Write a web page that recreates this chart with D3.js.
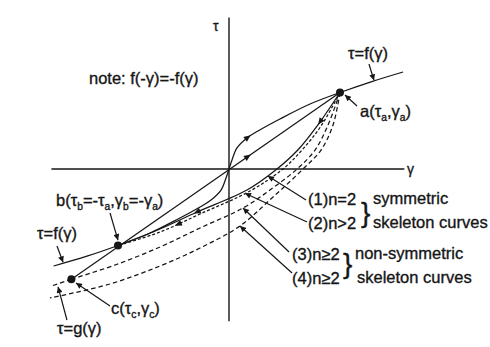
<!DOCTYPE html>
<html>
<head>
<meta charset="utf-8">
<script src="https://cdn.jsdelivr.net/npm/d3@7"></script>
<style>
  html, body { margin: 0; padding: 0; background: #fff; }
  svg { display: block; font-family: "Liberation Sans", Arial, Helvetica, sans-serif; }
</style>
</head>
<body>
<svg id="chart" width="490" height="347"></svg>
<script>
// Skeleton curve tau = f(gamma), odd-symmetric about the origin
const skeletonGamma = [-1.58, -1.28, -1.0, -0.73, -0.459, -0.261, -0.162, -0.072, -0.027, 0,
                        0.027, 0.072, 0.162, 0.261, 0.459, 0.73, 1.0, 1.28, 1.568];
const skeletonTau   = [-1.268, -1.14, -1.0, -0.85, -0.654, -0.497, -0.405, -0.275, -0.118, 0,
                        0.118, 0.275, 0.405, 0.497, 0.654, 0.85, 1.0, 1.14, 1.268];

// (1) n = 2, symmetric: unloading branch from a to b
const branch1Gamma = [1, 0.80, 0.62, 0.432, 0.162, -0.288, -0.622, -1];
const branch1Tau   = [1, 0.575, 0.248, 0, -0.275, -0.562, -0.784, -1];

// (2) n > 2, symmetric: unloading branch from a to b
const branch2Gamma = [1, 0.829, 0.658, 0.486, 0.189, -0.261, -0.622, -1];
const branch2Tau   = [1, 0.562, 0.248, 0, -0.288, -0.588, -0.824, -1];

// (3) n >= 2, non-symmetric: unloading branch from a to c
const branch3Gamma = [1, 0.892, 0.775, 0.613, 0.369, 0.126, -0.261, -0.622, -1.027, -1.42];
const branch3Tau   = [1, 0.575, 0.248, 0, -0.275, -0.51, -0.771, -1.02, -1.255, -1.44];

// (4) n >= 2, non-symmetric: unloading branch from a
const branch4Gamma = [1, 0.937, 0.829, 0.667, 0.387, 0.099, -0.261, -0.622, -1.072, -1.613];
const branch4Tau   = [1, 0.575, 0.248, 0, -0.379, -0.745, -1.033, -1.268, -1.503, -1.686];

// non-symmetric skeleton tau = g(gamma) beyond c
const gSkeletonGamma = [-1.42, -1.6];
const gSkeletonTau   = [-1.44, -1.53];

// straight line from c through the origin to a
const secantGamma = [-1.42, 1];
const secantTau   = [-1.44, 1];

// reversal points
const pointNames = ["a", "b", "c"];
const pointGamma = [1, -1, -1.42];
const pointTau   = [1, -1, -1.44];

// label leaders: from (gamma, tau) to (gamma, tau)
const leaderFromGamma = [1.261, 1.153, -1.072, -1.55, -1.072, -1.46, 0.694, 0.703, 0.541, 0.568];
const leaderFromTau   = [1.373, 0.824, -0.575, -1.006, -1.79, -1.974, -0.405, -0.693, -1.085, -1.36];
const leaderToGamma   = [1.306, 1.045, -1.0, -1.495, -1.378, -1.54, 0.351, 0.144, 0.126, 0.099];
const leaderToTau     = [1.16, 0.967, -0.93, -1.22, -1.49, -1.54, -0.092, -0.318, -0.51, -0.745];

const svg = d3.select("#chart");
const ink = "#161616";

const x = d3.scaleLinear().domain([-1.6, 1.6]).range([51.4, 406.6]);
const y = d3.scaleLinear().domain([-2, 2]).range([322, 16]);

const zip = (gs, ts) => gs.map((g, i) => [g, ts[i]]);
const line = d3.line().x(d => x(d[0])).y(d => y(d[1])).curve(d3.curveCatmullRom.alpha(0.5));
const straight = d3.line().x(d => x(d[0])).y(d => y(d[1]));

const defs = svg.append("defs");
defs.append("marker")
  .attr("id", "tip")
  .attr("viewBox", "0 0 10 10")
  .attr("refX", 10).attr("refY", 5)
  .attr("markerWidth", 7).attr("markerHeight", 6)
  .attr("markerUnits", "userSpaceOnUse")
  .attr("orient", "auto")
  .append("path").attr("d", "M0,0 L10,5 L0,10 Z").attr("fill", ink);

// axes
svg.append("line")
  .attr("x1", x(-1.6)).attr("x2", x(1.58))
  .attr("y1", y(0)).attr("y2", y(0))
  .attr("stroke", ink).attr("stroke-width", 1.4);
svg.append("line")
  .attr("x1", x(0)).attr("x2", x(0))
  .attr("y1", y(1.98)).attr("y2", y(-1.99))
  .attr("stroke", ink).attr("stroke-width", 1.4);

const g = svg.append("g").attr("fill", "none").attr("stroke", ink).attr("stroke-width", 1.25);

const skeletonPath = g.append("path").attr("d", line(zip(skeletonGamma, skeletonTau)));
const secantPath = g.append("path").attr("d", straight(zip(secantGamma, secantTau)));
const b1 = g.append("path").attr("d", line(zip(branch1Gamma, branch1Tau)));
const b2 = g.append("path").attr("d", line(zip(branch2Gamma, branch2Tau)))
  .attr("stroke-dasharray", "3,2");
g.append("path").attr("d", line(zip(branch3Gamma, branch3Tau)))
  .attr("stroke-dasharray", "4.5,3");
g.append("path").attr("d", line(zip(branch4Gamma, branch4Tau)))
  .attr("stroke-dasharray", "4.5,3");
g.append("path").attr("d", straight(zip(gSkeletonGamma, gSkeletonTau)))
  .attr("stroke-dasharray", "4.5,3");

// direction arrows along the paths
function arrowOn(sel, gammaTarget, reverse) {
  const node = sel.node();
  const L = node.getTotalLength();
  const tx = x(gammaTarget);
  let best = 0, bd = Infinity;
  for (let s = 0; s <= L; s += 0.5) {
    const p = node.getPointAtLength(s);
    const d = Math.abs(p.x - tx);
    if (d < bd) { bd = d; best = s; }
  }
  const p = node.getPointAtLength(best);
  const p0 = node.getPointAtLength(Math.max(0, best - 2));
  const p1 = node.getPointAtLength(Math.min(L, best + 2));
  let ang = Math.atan2(p1.y - p0.y, p1.x - p0.x) * 180 / Math.PI;
  if (reverse) ang += 180;
  svg.append("path")
    .attr("d", "M3.5,0 L-3.5,-3 L-3.5,3 Z")
    .attr("fill", ink)
    .attr("transform", `translate(${p.x},${p.y}) rotate(${ang})`);
}
arrowOn(skeletonPath, 0.17, false);
arrowOn(secantPath, 0.17, false);
arrowOn(b1, 0.82, false);
arrowOn(b1, -0.29, false);
arrowOn(b2, -0.46, false);

// reversal points
svg.selectAll("circle.pt")
  .data(pointNames)
  .join("circle")
  .attr("class", "pt")
  .attr("cx", (d, i) => x(pointGamma[i]))
  .attr("cy", (d, i) => y(pointTau[i]))
  .attr("r", 4)
  .attr("fill", ink);

// leaders
svg.append("g").selectAll("line")
  .data(leaderFromGamma)
  .join("line")
  .attr("x1", (d, i) => x(leaderFromGamma[i]))
  .attr("y1", (d, i) => y(leaderFromTau[i]))
  .attr("x2", (d, i) => x(leaderToGamma[i]))
  .attr("y2", (d, i) => y(leaderToTau[i]))
  .attr("stroke", ink).attr("stroke-width", 1.2)
  .attr("marker-end", "url(#tip)");

// text with subscripts
function label(px, py, parts, size) {
  const fs = size || 16.5;
  const t = svg.append("text")
    .attr("x", px).attr("y", py)
    .attr("font-size", fs)
    .attr("fill", ink)
    .attr("stroke", ink).attr("stroke-width", 0.35);
  let down = false;
  parts.forEach(p => {
    const isSub = Array.isArray(p);
    const s = isSub ? p[0] : p;
    const ts = t.append("tspan").text(s);
    if (isSub && !down) { ts.attr("dy", 4).attr("font-size", fs * 0.62); down = true; }
    else if (isSub) { ts.attr("font-size", fs * 0.62); }
    else if (down) { ts.attr("dy", -4); down = false; }
  });
  return t;
}

label(213, 31, ["τ"], 14);
label(407, 174, ["γ"], 14);
label(89, 84, ["note: f(-γ)=-f(γ)"]);
label(348, 59, ["τ=f(γ)"]);
label(360, 117, ["a(τ", ["a"], ",γ", ["a"], ")"]);
label(56, 206, ["b(τ", ["b"], "=-τ", ["a"], ",γ", ["b"], "=-γ", ["a"], ")"]);
label(37, 239, ["τ=f(γ)"]);
label(111, 314, ["c(τ", ["c"], ",γ", ["c"], ")"]);
label(57, 334, ["τ=g(γ)"]);

label(308, 205, ["(1)n=2"]);
label(373, 204, ["symmetric"]);
label(308, 229, ["(2)n>2"]);
label(373, 228, ["skeleton curves"]);
label(292, 260, ["(3)n≥2"]);
label(355, 259, ["non-symmetric"]);
label(292, 284, ["(4)n≥2"]);
label(357, 283, ["skeleton curves"]);
label(361, 222, ["}"], 28);
label(343, 273, ["}"], 28);
</script>
</body>
</html>
